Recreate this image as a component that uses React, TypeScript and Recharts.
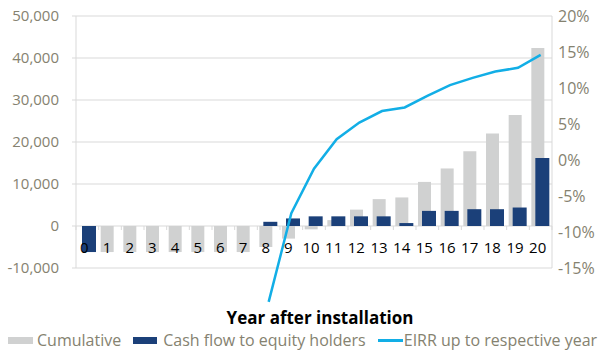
import React from 'react'
import { ComposedChart, Bar, Line, XAxis, YAxis, CartesianGrid, Legend } from 'recharts'

// Year after installation
const years = ['0', '1', '2', '3', '4', '5', '6', '7', '8', '9', '10', '11', '12', '13', '14', '15', '16', '17', '18', '19', '20']
// Cumulative cash flow (left axis)
const cumulative = [null, -6200, -6200, -6200, -6200, -6200, -6200, -6200, -5000, -3000, -800, 1400, 3900, 6400, 6800, 10500, 13700, 17800, 22000, 26400, 42400]
// Cash flow to equity holders (left axis)
const cashFlow = [-6200, 0, 0, 0, 0, 0, 0, 0, 1000, 1800, 2300, 2300, 2300, 2300, 700, 3600, 3600, 4000, 4000, 4400, 16200]
// EIRR up to respective year, in % (right axis)
const eirr = [null, null, null, null, null, null, null, null, -19.7, -7.4, -1.2, 2.9, 5.2, 6.8, 7.3, 8.9, 10.4, 11.4, 12.3, 12.8, 14.6]

const leftTicks = [-10000, 0, 10000, 20000, 30000, 40000, 50000]
const rightTicks = [-15, -10, -5, 0, 5, 10, 15, 20]

const data = years.map((year, i) => ({
  year,
  cumulative: cumulative[i],
  cashFlow: cashFlow[i],
  eirr: eirr[i],
}))

const FONT = '"Open Sans", sans-serif'
const GRAY = '#d0d1d1'
const BLUE = '#1b4079'
const CYAN = '#12aee6'
const GRID = '#d9d9d9'
const TICK_TEXT = '#858270'

// plot area geometry
const PLOT_LEFT = 76
const PLOT_RIGHT = 552
const PLOT_TOP = 16
const PLOT_H = 252
const BAND = (PLOT_RIGHT - PLOT_LEFT) / years.length
const ZERO_Y = PLOT_TOP + (50000 / 60000) * PLOT_H

// category labels sit right under the zero line, like the original
const CategoryTick = (props: any) => {
  const { x, payload, index } = props
  const last = index === years.length - 1
  return (
    <g>
      <line x1={x - BAND / 2} x2={x - BAND / 2} y1={ZERO_Y} y2={ZERO_Y + 4} stroke={GRID} />
      {last && <line x1={x + BAND / 2} x2={x + BAND / 2} y1={ZERO_Y} y2={ZERO_Y + 4} stroke={GRID} />}
      <text x={x - 3} y={253} textAnchor="middle" fill="#000" fontSize={15} fontFamily={FONT}>
        {payload.value}
      </text>
    </g>
  )
}

const LegendContent = () => (
  <div
    style={{
      display: 'flex',
      alignItems: 'center',
      height: 22,
      paddingLeft: 8,
      fontFamily: FONT,
      fontSize: 16,
      color: TICK_TEXT,
      whiteSpace: 'nowrap',
    }}
  >
    <span style={{ width: 25, height: 7, background: GRAY, marginRight: 4 }} />
    <span>Cumulative</span>
    <span style={{ width: 24, height: 7, background: BLUE, marginLeft: 12, marginRight: 6 }} />
    <span>Cash flow to equity holders</span>
    <span style={{ width: 25, height: 3, background: CYAN, marginLeft: 12, marginRight: 1 }} />
    <span>EIRR up to respective year</span>
  </div>
)

export default function App() {
  return (
    <div style={{ position: 'absolute', left: 0, top: 0 }}>
      {/* the EIRR line runs below the plot area at year 8, so don't clip it */}
      <style>{`.recharts-line, .recharts-line * { clip-path: none !important; }`}</style>
      <ComposedChart
        width={606}
        height={351}
        data={data}
        margin={{ top: PLOT_TOP, right: 0, bottom: 0, left: 0 }}
        barGap={-9}
      >
        <CartesianGrid vertical={false} stroke={GRID} yAxisId="left" />
        <XAxis
          dataKey="year"
          interval={0}
          height={61}
          axisLine={false}
          tickLine={false}
          tick={<CategoryTick />}
          label={{
            value: 'Year after installation',
            position: 'insideBottom',
            offset: 5,
            dx: 6,
            fill: '#000',
            fontSize: 17,
            fontWeight: 'bold',
            fontFamily: FONT,
          }}
        />
        <YAxis
          yAxisId="left"
          width={PLOT_LEFT}
          domain={[-10000, 50000]}
          ticks={leftTicks}
          tickFormatter={(v: number) => v.toLocaleString('en-US')}
          axisLine={{ stroke: GRID }}
          tickLine={{ stroke: GRID }}
          tickSize={4}
          tickMargin={13}
          tick={{ fill: TICK_TEXT, fontSize: 15, fontFamily: FONT }}
        />
        <YAxis
          yAxisId="right"
          orientation="right"
          width={606 - PLOT_RIGHT}
          domain={[-15, 20]}
          ticks={rightTicks}
          allowDataOverflow
          tickFormatter={(v: number) => `${v}%`}
          axisLine={{ stroke: GRID }}
          tickLine={false}
          tickSize={0}
          tickMargin={6}
          tick={{ fill: TICK_TEXT, fontSize: 16, fontFamily: FONT, textAnchor: 'start' }}
        />
        <Legend verticalAlign="bottom" content={<LegendContent />} wrapperStyle={{ left: 0, bottom: 0, width: 606, height: 22 }} />
        <Bar yAxisId="left" dataKey="cumulative" name="Cumulative" fill={GRAY} barSize={13} isAnimationActive={false} />
        <Bar yAxisId="left" dataKey="cashFlow" name="Cash flow to equity holders" fill={BLUE} barSize={14} isAnimationActive={false} />
        <Line
          yAxisId="right"
          dataKey="eirr"
          name="EIRR up to respective year"
          type="linear"
          stroke={CYAN}
          strokeWidth={2.5}
          dot={false}
          activeDot={false}
          isAnimationActive={false}
        />
      </ComposedChart>
    </div>
  )
}
